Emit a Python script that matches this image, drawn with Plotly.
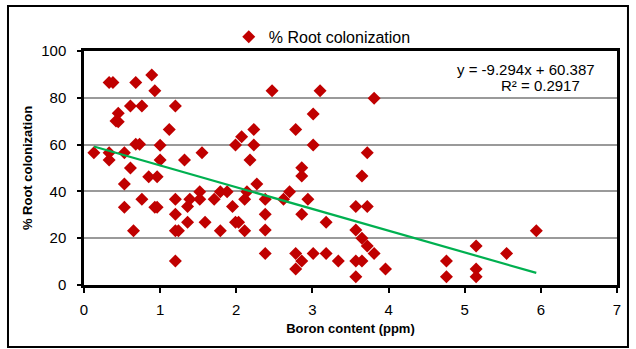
import plotly.graph_objects as go

boron = [0.13, 0.33, 0.38, 0.33, 0.33, 0.45, 0.42, 0.45, 0.53, 0.61,
         0.61, 0.68, 0.68, 0.73, 0.76, 0.89, 0.93, 1.00, 1.00, 1.12,
         1.20, 1.32, 1.55, 1.99, 2.07, 2.23, 2.23, 2.18, 0.53, 0.85,
         0.96, 0.53, 0.65, 0.76, 0.93, 0.96, 1.20, 1.20, 1.20, 1.24,
         1.20, 1.36, 1.39, 1.52, 1.52, 1.36, 1.59, 1.71, 1.79, 1.88,
         1.79, 1.95, 1.99, 2.03, 2.11, 2.11, 2.14, 2.27, 2.47, 3.10,
         3.81, 3.01, 2.78, 3.01, 3.72, 2.86, 2.86, 3.65, 2.70, 2.38,
         2.62, 2.94, 2.38, 2.86, 2.38, 3.18, 3.57, 3.72, 3.57, 3.65,
         3.72, 3.81, 2.38, 2.78, 2.86, 2.78, 3.01, 3.18, 3.34, 3.57,
         3.65, 3.57, 3.96, 4.76, 4.76, 5.15, 5.15, 5.15, 5.55, 5.94]
colonization = [56.5, 86.5, 86.5, 56.5, 53.4, 73.4, 70.1, 69.8, 56.5, 76.5,
                50.0, 86.5, 60.1, 60.1, 76.5, 89.7, 83.0, 59.7, 53.4, 66.5,
                76.5, 53.4, 56.5, 59.8, 63.4, 66.5, 59.8, 53.4, 43.2, 46.3,
                46.3, 33.2, 23.2, 36.6, 33.2, 33.2, 36.6, 30.2, 23.2, 23.2,
                10.3, 33.5, 36.6, 39.9, 36.6, 26.8, 26.8, 36.6, 39.9, 39.9,
                23.2, 33.5, 26.8, 26.8, 36.6, 23.2, 39.9, 43.2, 83.0, 83.0,
                79.8, 73.1, 66.5, 59.8, 56.5, 50.1, 46.6, 46.6, 39.9, 36.6,
                36.6, 36.6, 30.2, 30.2, 23.5, 26.8, 33.5, 33.5, 23.5, 20.0,
                16.7, 13.5, 13.5, 13.5, 10.3, 6.8, 13.5, 13.5, 10.3, 10.3,
                10.3, 3.5, 6.8, 10.3, 3.5, 16.7, 6.8, 3.5, 13.5, 23.2]

slope = -9.294
intercept = 60.387
r_squared = 0.2917

x_ticks = [0, 1, 2, 3, 4, 5, 6, 7]
y_ticks = [0, 20, 40, 60, 80, 100]

trend_x = [min(boron), max(boron)]
trend_y = [slope * v + intercept for v in trend_x]

fig = go.Figure()
fig.add_trace(go.Scatter(
    x=boron, y=colonization, mode="markers", name="% Root colonization",
    marker=dict(symbol="diamond", size=10, color="#C00000"),
))
fig.add_trace(go.Scatter(
    x=trend_x, y=trend_y, mode="lines", showlegend=False,
    line=dict(color="#00B050", width=2.2), hoverinfo="skip",
))

font_main = "Liberation Sans, Arial, sans-serif"

fig.update_layout(
    width=636, height=349,
    margin=dict(l=84, r=19, t=51, b=64),
    paper_bgcolor="white", plot_bgcolor="white",
    font=dict(family=font_main, size=15, color="black"),
    showlegend=True,
    legend=dict(orientation="h", x=0.447, xanchor="center", y=1.06, yanchor="middle",
                font=dict(size=16), bgcolor="rgba(0,0,0,0)", itemwidth=30),
    xaxis=dict(range=[0, 7], tickvals=x_ticks, ticktext=[str(v) for v in x_ticks],
               showgrid=False, zeroline=False, showline=True, linecolor="black",
               linewidth=2.5, mirror=True, ticks="outside", ticklen=5, tickwidth=2,
               tickcolor="black", tickfont=dict(size=15), ticklabelstandoff=4,
               title=dict(text="<b>Boron content (ppm)</b>", standoff=8,
                          font=dict(size=13, family="Liberation Sans Narrow, Liberation Sans, Arial"))),
    yaxis=dict(range=[0, 100], tickvals=y_ticks, ticktext=[str(v) for v in y_ticks],
               showgrid=True, gridcolor="#9a9a9a", gridwidth=1.5, zeroline=False,
               showline=True, linecolor="black", linewidth=2.5, mirror=True,
               ticks="outside", ticklen=4, tickwidth=2, tickcolor="black",
               tickfont=dict(size=15), ticklabelstandoff=8,
               title=dict(text="<b>% Root colonization</b>", standoff=6,
                          font=dict(size=13, family=font_main))),
    annotations=[
        dict(xref="paper", yref="paper", x=0.962, y=0.919, xanchor="right", yanchor="middle",
             text=f"y = {slope}x + {intercept}", showarrow=False, font=dict(size=15)),
        dict(xref="paper", yref="paper", x=0.857, y=0.852, xanchor="center", yanchor="middle",
             text=f"R² = {r_squared}", showarrow=False, font=dict(size=15)),
    ],
    shapes=[dict(type="rect", xref="paper", yref="paper",
                 x0=-0.1426, x1=1.0206, y0=-0.265, y1=1.1923,
                 line=dict(color="black", width=2), layer="below")],
)

fig.write_html("out.html")
